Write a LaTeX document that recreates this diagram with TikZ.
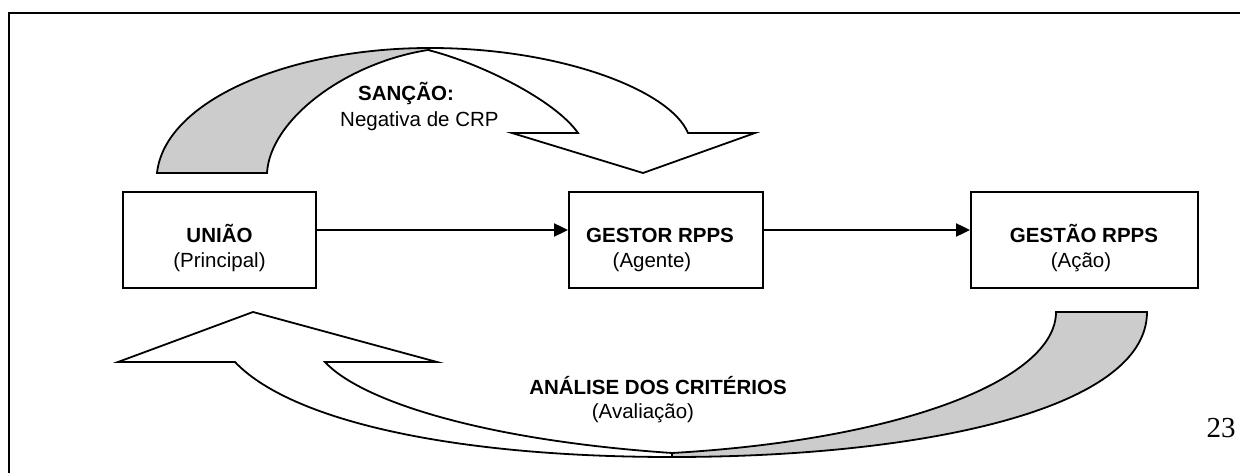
\documentclass[tikz,border=0pt]{standalone}
\usepackage{fontspec}
\setmainfont{Liberation Sans}
\newfontfamily\pagefont{Liberation Serif}
\usetikzlibrary{arrows.meta}
\definecolor{backshade}{HTML}{CCCCCC}
\tikzset{
  box/.style={draw, line width=2pt, inner sep=0pt, minimum height=96pt},
  txt/.style={anchor=base, inner sep=0pt, font=\fontsize{20.5pt}{25pt}\selectfont},
  bold/.style={txt, font=\fontsize{20.5pt}{25pt}\selectfont\bfseries},
  conn/.style={line width=2.4pt, -{Triangle[length=14pt,width=13pt]}},
  bigarrow/.style={draw, line width=1.8pt, line join=miter, fill=white},
  backside/.style={draw, line width=1.8pt, fill=backshade}
}
\begin{document}
\begin{tikzpicture}[x=1pt, y=-1pt]
  \useasboundingbox (0,0) rectangle (1240,473);

  % page frame, open at the right and at the bottom
  \draw[line width=2.4pt] (9,473) -- (9,13) -- (1240,13);

  % curved arrow on top: shaded back, then the white front with its head
  \path[backside] (157,173) .. controls (165,100) and (290,48) .. (430,48)
        -- (428,50) .. controls (345,63) and (270,120) .. (267,173) -- cycle;
  \path[bigarrow] (430,48) .. controls (560,48) and (670,90) .. (688,133)
        -- (755,133) -- (643,173) -- (512,133) -- (578,133)
        .. controls (555,100) and (480,63) .. (428,50) -- cycle;

  % curved arrow underneath: white front with its head, then the shaded back
  \path[bigarrow] (672,457) .. controls (450,457) and (290,420) .. (235,362)
        -- (118,362) -- (253,312) -- (437,362) -- (325,362)
        .. controls (360,400) and (480,440) .. (672,453) -- cycle;
  \path[backside] (672,457) .. controls (920,457) and (1147,410) .. (1147,312)
        -- (1056,312) .. controls (1056,380) and (900,440) .. (672,453) -- cycle;

  % the three boxes
  \node[box, minimum width=193pt] (uniao)  at (219.5,240) {};
  \node[box, minimum width=194pt] (gestor) at (666,240) {};
  \node[box, minimum width=227pt] (gestao) at (1084.5,240) {};

  \node[bold] (uniaoA)  at (219.5,243) {UNIÃO};
  \node[txt]  (uniaoB)  at (219.5,268) {(Principal)};
  \node[bold] (gestorA) at (660,243) {GESTOR RPPS};
  \node[txt]  (gestorB) at (652,268) {(Agente)};
  \node[bold] (gestaoA) at (1084,243) {GESTÃO RPPS};
  \node[txt]  (gestaoB) at (1081,268) {(Ação)};

  % connectors between the boxes
  \draw[conn] ([yshift=10pt]uniao.east) -- ([yshift=10pt]gestor.west);
  \draw[conn] ([yshift=10pt]gestor.east) -- ([yshift=10pt]gestao.west);

  % labels of the curved arrows
  \node[bold, anchor=base west] (sancao)   at (358,101) {SANÇÃO:};
  \node[txt,  anchor=base west] (negativa) at (340,127) {Negativa de CRP};
  \node[bold] (analise)   at (658,394) {ANÁLISE DOS CRITÉRIOS};
  \node[txt]  (avaliacao) at (643,418) {(Avaliação)};

  % page number
  \node[anchor=base, inner sep=0pt, font=\pagefont\fontsize{29pt}{34pt}\selectfont] (pagenum) at (1221,437) {23};
\end{tikzpicture}
\end{document}
